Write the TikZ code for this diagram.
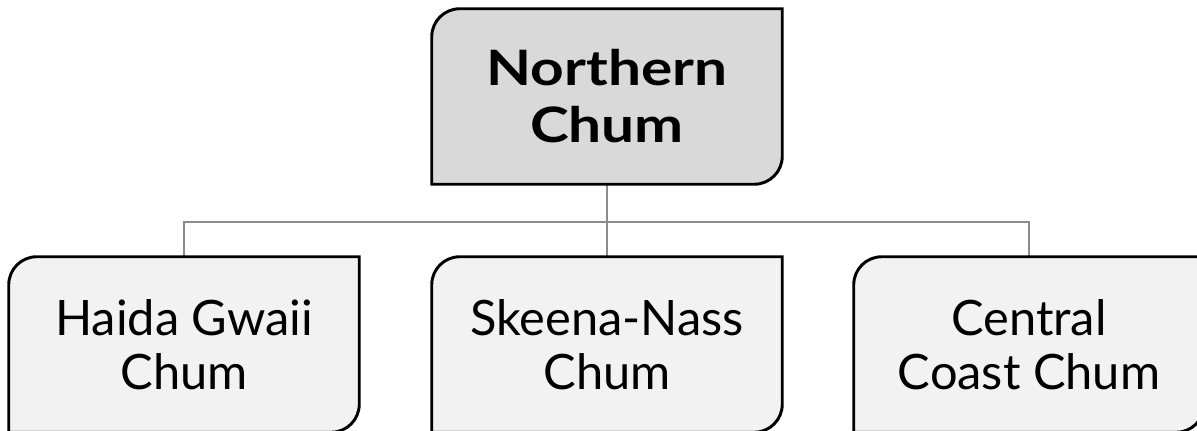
\documentclass[tikz,border=0pt]{standalone}
\usepackage{fontspec}
\setmainfont{Lato}
\usetikzlibrary{backgrounds}
\definecolor{topfill}{HTML}{D9D9D9}
\definecolor{subfill}{HTML}{F2F2F2}
\definecolor{linkgray}{HTML}{8C8C8C}
\tikzset{
  boxtext/.style={inner sep=0pt, minimum width=262.5pt, minimum height=131.25pt, align=center,
    font=\fontsize{36.6}{40.5}\selectfont},
  toptext/.style={boxtext, font=\fontsize{36.6}{42.75}\selectfont\bfseries\addfontfeature{FakeStretch=1.2}},
  boxline/.style={draw=black, line width=2.2pt},
  link/.style={draw=linkgray, line width=2pt},
}
\newcommand{\leafbox}[2]{%
  \path[boxline, fill=#2] (#1.south west) -- ([yshift=-21pt]#1.north west)
    arc[start angle=180, end angle=90, radius=21pt] -- (#1.north east)
    -- ([yshift=21pt]#1.south east) arc[start angle=0, end angle=-90, radius=21pt] -- cycle;}
\begin{document}
\begin{tikzpicture}[x=0.75pt, y=-0.75pt]
\useasboundingbox (0,0) rectangle (1197,431);
\clip (0,0) rectangle (1197,431);
\node[toptext] (top) at (607,96.5) {Northern\\Chum};
\node[boxtext] (haida) at (184,344.5) {Haida Gwaii\\Chum};
\node[boxtext] (skeena) at (607,344.5) {Skeena-Nass\\Chum};
\node[boxtext] (central) at (1029,344.5) {Central\\Coast Chum};
\coordinate (bus) at (607,222);
\begin{scope}[on background layer]
\draw[link] (top.south) -- (bus);
\draw[link] (haida.north) |- (bus) -| (central.north);
\draw[link] (bus) -- (skeena.north);
\leafbox{top}{topfill}
\leafbox{haida}{subfill}
\leafbox{skeena}{subfill}
\leafbox{central}{subfill}
\end{scope}
\end{tikzpicture}
\end{document}
